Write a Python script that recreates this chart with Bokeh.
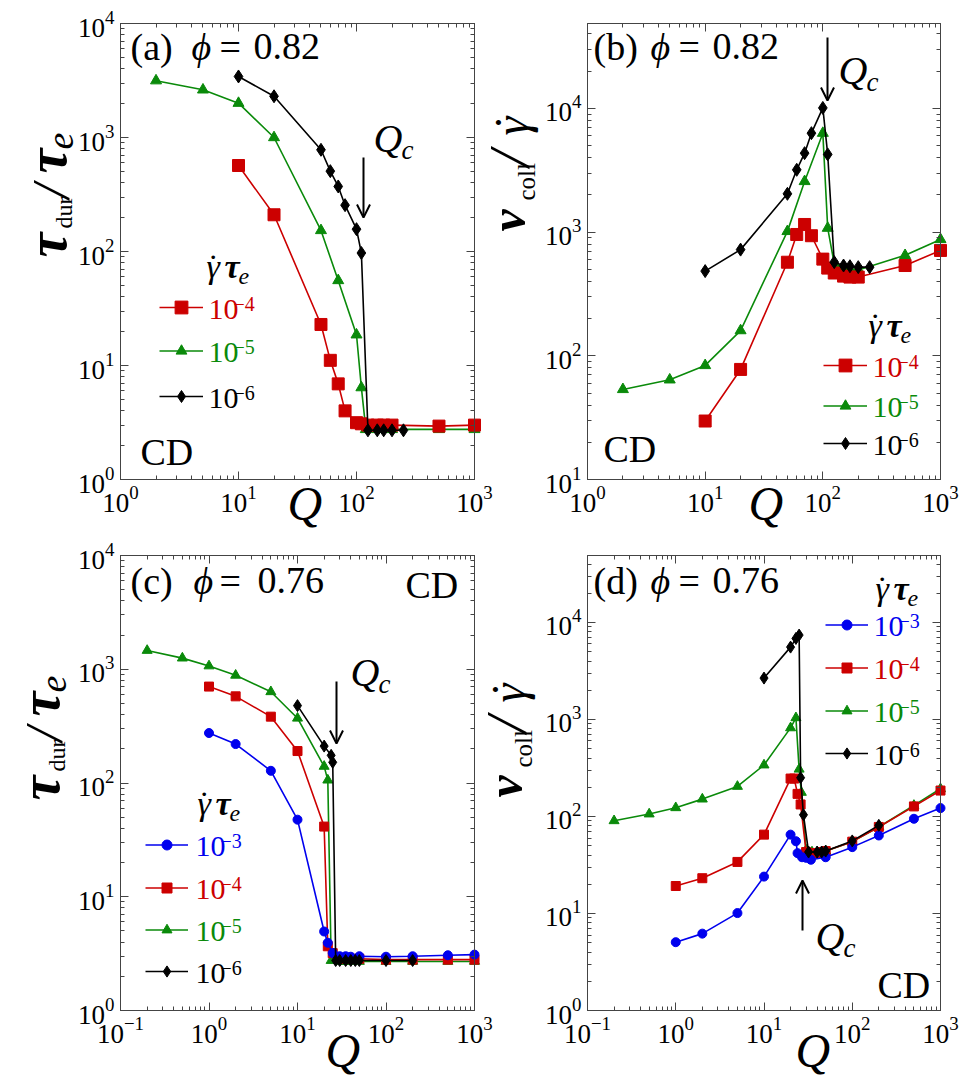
import math
from bokeh.plotting import figure
from bokeh.models import (Range1d, LogAxis, LogTicker, Label, Arrow, OpenHead,
                          Legend, LegendItem)
from bokeh.embed import file_html
from bokeh.resources import INLINE

# ---------------- data ----------------
# (a) tau_dur/tau_e, phi = 0.82
a_Q_r = [10, 20, 50, 60, 70, 80, 100, 110, 125, 150, 170, 200, 500, 1000]
a_v_r = [568, 210, 22.9, 11.1, 6.9, 4.0, 3.15, 3.08, 3.0, 3.0, 3.0, 3.0, 2.94, 3.0]
a_Q_g = [2, 5, 10, 20, 50, 70, 100, 110, 120, 150, 200, 500, 1000]
a_v_g = [3150, 2620, 2000, 1000, 153, 55.7, 18.6, 6.4, 2.75, 2.75, 2.75, 2.75, 2.75]
a_Q_k = [10, 20, 50, 60, 70, 80, 100, 110, 125, 150, 170, 200, 250]
a_v_k = [3430, 2300, 780, 507, 372, 255, 157, 97, 2.7, 2.7, 2.7, 2.7, 2.7]

# (b) nu_coll/gammadot, phi = 0.82
b_Q_r = [10, 20, 50, 60, 70, 80, 100, 110, 125, 150, 170, 200, 500, 1000]
b_v_r = [29.7, 77.6, 571, 957, 1153, 935, 605, 512, 467, 441, 433, 433, 537, 711]
b_Q_g = [2, 5, 10, 20, 50, 70, 100, 110, 125, 150, 170, 200, 500, 1000]
b_v_g = [53.5, 64, 83.6, 160, 1014, 2570, 6310, 1077, 555, 510, 500, 495, 649, 873]
b_Q_k = [10, 20, 50, 60, 70, 80, 100, 110, 125, 150, 170, 200, 250]
b_v_k = [484, 722, 2040, 3190, 4350, 6310, 10100, 4250, 572, 537, 530, 521, 521]

# (c) tau_dur/tau_e, phi = 0.76
c_Q_b = [1, 2, 5, 10, 20, 22, 25, 30, 35, 40, 50, 100, 200, 500, 1000]
c_v_b = [275, 220, 128, 47.6, 4.95, 3.94, 3.2, 3.0, 3.0, 2.97, 3.0, 2.97, 3.0, 3.06, 3.1]
c_Q_r = [1, 2, 5, 10, 20, 22, 25, 30, 35, 40, 50, 100, 200, 500, 1000]
c_v_r = [704, 578, 383, 191, 41.4, 3.67, 3.19, 2.9, 2.85, 2.85, 2.85, 2.8, 2.8, 2.8, 2.8]
c_Q_g = [0.2, 0.5, 1, 2, 5, 10, 20, 22, 24, 30, 35, 40, 50, 100, 200, 500, 1000]
c_v_g = [1462, 1253, 1069, 885, 634, 371, 140, 106, 2.75, 2.7, 2.7, 2.7, 2.7, 2.7, 2.7, 2.7, 2.7]
c_Q_k = [10, 20, 24, 25, 27, 30, 35, 40, 45, 50, 100, 200]
c_v_k = [479, 211, 175, 152, 2.75, 2.75, 2.75, 2.75, 2.75, 2.75, 2.75, 2.75]

# (d) nu_coll/gammadot, phi = 0.76
d_Q_b = [1, 2, 5, 10, 20, 23, 24, 27, 30, 34, 50, 100, 200, 500, 1000]
d_v_b = [5.06, 6.2, 10.1, 24, 65, 55.6, 41.9, 38, 37.5, 35.8, 38, 48.3, 63.7, 94.7, 122]
d_Q_r = [1, 2, 5, 10, 20, 22, 24, 26, 30, 35, 40, 45, 50, 100, 200, 500, 1000]
d_v_r = [19.2, 23.1, 34, 65, 246, 246, 171, 133, 43, 42, 42, 43, 44, 55, 78, 127, 185]
d_Q_g = [0.2, 0.5, 1, 2, 5, 10, 20, 23, 25, 26.5, 30, 35, 40, 45, 50, 100, 200, 500, 1000]
d_v_g = [90.3, 106, 123, 151, 204, 339, 819, 1040, 307, 177, 45, 43, 43, 43, 44, 55, 78, 130, 193]
d_Q_k = [10, 20, 23, 25, 26, 28, 32, 40, 45, 50, 100, 200]
d_v_k = [2670, 5570, 6840, 7410, 251, 104, 43, 43, 43, 44, 56, 81]

rate_labels = {"b": "\u22123", "r": "\u22124", "g": "\u22125", "k": "\u22126"}

# axis extents (data space) of each panel box
a_xlim, a_ylim = (1, 1000), (1, 1e4)
b_xlim, b_ylim = (1, 1000), (10, 48600)
c_xlim, c_ylim = (0.1, 1000), (1, 1e4)
d_xlim, d_ylim = (0.1, 1000), (1, 49000)

# ---------------- style ----------------
W, H = 972, 1090
SERIF = "Liberation Serif"
RED = "#cc0000"
GREEN = "#0a8a0a"
BLUE = "#0000ee"
BLACK = "#000000"
AXC = "#444444"
K = 0.36   # baseline correction (fraction of font size)

p = figure(width=W, height=H, x_axis_type="log", y_axis_type="log",
           x_range=Range1d(1, 10), y_range=Range1d(1, 10),
           x_axis_location=None, y_axis_location=None,
           min_border_left=0, min_border_right=0, min_border_top=0, min_border_bottom=0,
           output_backend="svg", toolbar_location=None)
p.outline_line_color = None
for g in p.grid:
    g.visible = False

xranges, yranges = {}, {}


def axis(name, side, loc, bounds, labels):
    ax = LogAxis(x_range_name=name, y_range_name=name, fixed_location=loc, bounds=bounds,
                 ticker=LogTicker(num_minor_ticks=10),
                 major_tick_in=8, major_tick_out=0, minor_tick_in=4, minor_tick_out=0,
                 axis_line_color=AXC, major_tick_line_color=AXC, minor_tick_line_color=AXC,
                 major_label_text_font=SERIF, major_label_standoff=6,
                 major_label_text_color="black")
    if labels:
        ax.major_label_text_font_size = "27px"
    else:
        ax.major_label_text_font_size = "8px"
        ax.major_label_text_alpha = 0
    p.add_layout(ax, side)


def panel(name, box, xlim, ylim):
    bx0, by0, bx1, by1 = box
    lx0, lx1 = math.log10(xlim[0]), math.log10(xlim[1])
    ly0, ly1 = math.log10(ylim[0]), math.log10(ylim[1])
    dx = (bx1 - bx0) / (lx1 - lx0)
    dy = (by1 - by0) / (ly1 - ly0)
    xranges[name] = Range1d(10 ** (lx0 - bx0 / dx), 10 ** (lx1 + (W - bx1) / dx))
    yranges[name] = Range1d(10 ** (ly0 - (H - by1) / dy), 10 ** (ly1 + by0 / dy))
    axis(name, "below", ylim[0], xlim, True)
    axis(name, "left", xlim[0], ylim, True)
    axis(name, "above", ylim[1], xlim, False)
    axis(name, "right", xlim[1], ylim, False)


def L(x, y, text, size, style="normal", color="black", rot=False):
    """x, y: page position of the text start on its baseline."""
    if rot:
        x = x - K * size
    else:
        y = y - K * size
    p.add_layout(Label(x=x, y=H - y, x_units="screen", y_units="screen",
                       text=text, text_font=SERIF, text_font_size=f"{size}px",
                       text_font_style=style, text_color=color,
                       angle=(math.pi / 2 if rot else 0.0),
                       text_align="left", text_baseline="alphabetic"))


def arrow(x0, y0, x1, y1):
    p.add_layout(Arrow(x_start=x0, y_start=H - y0, x_end=x1, y_end=H - y1,
                       start_units="screen", end_units="screen",
                       line_color="black", line_width=2,
                       end=OpenHead(size=13, line_width=2, line_color="black")))


def series(name, Q, v, color, marker, size):
    l = p.line(Q, v, line_color=color, line_width=1.6,
               x_range_name=name, y_range_name=name)
    s = p.scatter(Q, v, marker=marker, size=size, fill_color=color, line_color=color,
                  x_range_name=name, y_range_name=name)
    return [l, s]


def legend_entry(rends, x0, yrow, gh, gw=44):
    leg = Legend(items=[LegendItem(label=" ", renderers=rends)],
                 location=(x0, H - (yrow + gh / 2.0)),
                 glyph_width=gw, glyph_height=gh, label_height=gh, label_width=1,
                 label_standoff=0, spacing=0, padding=0, margin=0,
                 border_line_alpha=0, background_fill_alpha=0,
                 label_text_font_size="6px")
    p.add_layout(leg)


def legend_text(x, yrow, sup, color, size=30, ssize=20, dx=25):
    L(x, yrow + 13, "10", size, color=color)
    L(x + dx, yrow + 4, sup, ssize, color=color)


def ylab_tau(xb, ys):
    L(xb, ys[0], "\u03c4", 56, "bold italic", rot=True)
    L(xb + 5, ys[1], "dur", 24, rot=True)
    L(xb + 3, ys[2], "/", 52, "italic", rot=True)
    L(xb, ys[3], "\u03c4", 56, "bold italic", rot=True)
    L(xb + 7, ys[4], "e", 38, "italic", rot=True)


def ylab_nu(xb, ys):
    L(xb, ys[0], "\u03bd", 50, "bold italic", rot=True)
    L(xb + 10, ys[1], "coll", 25, rot=True)
    L(xb + 5, ys[2], "/", 58, "italic", rot=True)
    L(xb + 3, ys[3], "\u03b3", 48, "italic", rot=True)
    L(xb + 3, ys[3] - 5, "\u02d9", 48, rot=True)


def header(x, y):
    L(x, y, "\u03b3", 34, "italic")
    L(x + 1, y, "\u02d9", 34)
    L(x + 18, y, "\u03c4", 34, "bold italic")
    L(x + 32, y + 7, "e", 24, "italic")


def title(xs, y, tag, val):
    L(xs[0], y, tag, 38)
    L(xs[1], y, "\u03d5", 38, "italic")
    L(xs[2], y, "=", 38)
    L(xs[3], y, val, 38)


def qc(x, y):
    L(x, y, "Q", 40, "italic")
    L(x + 28, y + 7, "c", 27, "italic")


# ---------------- panel (a) ----------------
panel("a", (120, 23, 474, 479), a_xlim, a_ylim)
ga = series("a", a_Q_g, a_v_g, GREEN, "triangle", 11)
ra = series("a", a_Q_r, a_v_r, RED, "square", 12)
ka = series("a", a_Q_k, a_v_k, BLACK, "diamond", 13)
title((130, 191, 219, 253), 60, "(a)", "0.82")
qc(373, 152)
arrow(363, 157, 363, 217)
L(140, 465, "CD", 38)
header(206, 278)
for rend, yrow, key, col, gh in ((ra, 307, "r", RED, 32), (ga, 350, "g", GREEN, 27),
                                 (ka, 396, "k", BLACK, 30)):
    legend_entry(rend, 159, yrow, gh)
    legend_text(208, yrow, rate_labels[key], col)
L(287, 520, "Q", 48, "italic")
ylab_tau(67, (257, 228, 198, 173, 149))

# ---------------- panel (b) ----------------
panel("b", (587, 23, 940, 479), b_xlim, b_ylim)
gb = series("b", b_Q_g, b_v_g, GREEN, "triangle", 11)
rb = series("b", b_Q_r, b_v_r, RED, "square", 12)
kb = series("b", b_Q_k, b_v_k, BLACK, "diamond", 13)
title((593, 650, 678, 712), 60, "(b)", "0.82")
qc(838, 84)
arrow(827, 37, 827, 100)
L(603, 462, "CD", 38)
header(868, 337)
for rend, yrow, key, col, gh in ((rb, 365, "r", RED, 32), (gb, 405, "g", GREEN, 27),
                                 (kb, 443, "k", BLACK, 30)):
    legend_entry(rend, 823, yrow, gh)
    legend_text(872, yrow, rate_labels[key], col)
L(748, 520, "Q", 48, "italic")
ylab_nu(525, (231, 200, 166, 135))

# ---------------- panel (c) ----------------
panel("c", (120, 555, 474, 1010), c_xlim, c_ylim)
gc = series("c", c_Q_g, c_v_g, GREEN, "triangle", 10)
rc = series("c", c_Q_r, c_v_r, RED, "square", 9)
bc = series("c", c_Q_b, c_v_b, BLUE, "circle", 9)
kc = series("c", c_Q_k, c_v_k, BLACK, "diamond", 12)
title((130, 193, 219, 257), 594, "(c)", "0.76")
L(405, 598, "CD", 38)
qc(350, 686)
arrow(336, 681, 336, 743)
header(197, 815)
for rend, yrow, key, col, gh in ((bc, 844, "b", BLUE, 25), (rc, 887, "r", RED, 25),
                                 (gc, 929, "g", GREEN, 25), (kc, 971, "k", BLACK, 28)):
    legend_entry(rend, 145, yrow, gh, 43)
    legend_text(195, yrow, rate_labels[key], col)
L(325, 1067, "Q", 48, "italic")
ylab_tau(60, (800, 771, 741, 716, 692))

# ---------------- panel (d) ----------------
panel("d", (587, 555, 940, 1010), d_xlim, d_ylim)
gd = series("d", d_Q_g, d_v_g, GREEN, "triangle", 10)
rd = series("d", d_Q_r, d_v_r, RED, "square", 9)
bd = series("d", d_Q_b, d_v_b, BLUE, "circle", 9)
kd = series("d", d_Q_k, d_v_k, BLACK, "diamond", 12)
title((593, 650, 678, 712), 594, "(d)", "0.76")
header(875, 600)
for rend, yrow, key, col, gh in ((bd, 624, "b", BLUE, 25), (rd, 667, "r", RED, 25),
                                 (gd, 710, "g", GREEN, 25), (kd, 753, "k", BLACK, 28)):
    legend_entry(rend, 825, yrow, gh, 43)
    legend_text(873, yrow, rate_labels[key], col)
arrow(802, 930, 802, 880)
qc(815, 950)
L(877, 998, "CD", 38)
L(795, 1067, "Q", 48, "italic")
ylab_nu(522, (797, 767, 732, 702))

p.extra_x_ranges = xranges
p.extra_y_ranges = yranges

open("out.html", "w").write(file_html(p, INLINE))
